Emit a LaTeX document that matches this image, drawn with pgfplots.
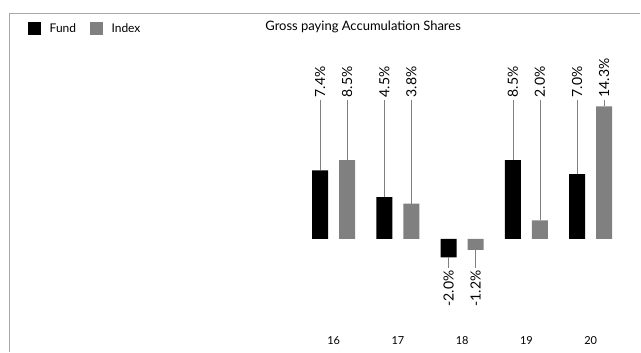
\documentclass[border=0pt]{standalone}
\usepackage{pgfplots}
\usepackage{pgfplotstable}
\pgfplotsset{compat=1.18}
\usepackage{fontspec}
\setmainfont{Lato}

\definecolor{idxgray}{HTML}{808080}
\definecolor{framegray}{HTML}{A8A8A8}

% discrete years, plotted at 0..4
\pgfplotstableread{
x fund index
0 7.4 8.5
1 4.5 3.8
2 -2.0 -1.2
3 8.5 2.0
4 7.0 14.3
}\returns

\begin{document}
\begin{tikzpicture}
\begin{axis}[
    scale only axis,
    width=641pt, height=352pt,
    xmin=-5.194, xmax=4.774,
    ymin=-12.19, ymax=25.78,
    clip=false,
    axis line style={draw=none},
    major tick length=0pt,
    ytick=\empty,
    xtick={0,1,2,3,4},
    xticklabels={16,17,18,19,20},
    xticklabel style={anchor=center, yshift=11pt, font=\fontsize{11}{13}\selectfont},
    /pgf/number format/assume math mode=true,
    title={Gross paying Accumulation Shares},
    title style={at={(rel axis cs:0.567,0.921)}, anchor=center, yshift=-5pt,
        font=\fontsize{13}{15}\selectfont},
    legend style={at={(rel axis cs:0.0437,0.94)}, anchor=north west, draw=none, fill=none,
        inner sep=0pt, font=\fontsize{12}{14}\selectfont,
        /tikz/every odd column/.append style={column sep=6.5pt},
        /tikz/every even column/.append style={column sep=12pt}},
    legend columns=2,
    legend image code/.code={\fill[#1] (0pt,-6.5pt) rectangle (13pt,6.5pt);},
]
% frame
\draw[framegray, line width=1.2pt] (rel axis cs:0.0148,0) -- (rel axis cs:0.0148,0.963) -- (rel axis cs:1,0.963);

% bars
\addplot[ybar, bar width=16pt, bar shift=-13.5pt, fill=black, draw=none]
    table[x=x, y=fund]{\returns};
\addlegendentry{Fund}
\addplot[ybar, bar width=16pt, bar shift=13.5pt, fill=idxgray, draw=none]
    table[x=x, y=index]{\returns};
\addlegendentry{Index}

% value labels with leader lines
\pgfplotsset{
    lbl/.style={only marks, mark=none, forget plot,
        restrict y to domain=-50:50,
        point meta=explicit,
        nodes near coords={\pgfmathprintnumber[fixed, fixed zerofill, precision=1]{\pgfplotspointmeta}\%},
        every node near coord/.style={rotate=90, text=black, inner sep=2.5pt,
            font=\fontsize{14}{16}\selectfont},
        error bars/error mark=none,
        error bars/error bar style={draw=gray, line width=0.6pt}},
}
% positive values
\addplot[lbl, every node near coord/.append style={anchor=west},
    error bars/.cd, y dir=minus, y explicit]
    table[x expr=\thisrow{x}-0.21, y expr={\thisrow{fund}>0 ? 15 : 1000}, meta=fund,
          y error minus expr={15-\thisrow{fund}}]{\returns};
\addplot[lbl, every node near coord/.append style={anchor=west},
    error bars/.cd, y dir=minus, y explicit]
    table[x expr=\thisrow{x}+0.21, y expr={\thisrow{index}>0 ? 15 : 1000}, meta=index,
          y error minus expr={15-\thisrow{index}}]{\returns};
% negative values
\addplot[lbl, every node near coord/.append style={anchor=east},
    error bars/.cd, y dir=plus, y explicit]
    table[x expr=\thisrow{x}-0.21, y expr={\thisrow{fund}<0 ? -3.13 : 1000}, meta=fund,
          y error plus expr={\thisrow{fund}+3.13}]{\returns};
\addplot[lbl, every node near coord/.append style={anchor=east},
    error bars/.cd, y dir=plus, y explicit]
    table[x expr=\thisrow{x}+0.21, y expr={\thisrow{index}<0 ? -3.13 : 1000}, meta=index,
          y error plus expr={\thisrow{index}+3.13}]{\returns};
\end{axis}
\end{tikzpicture}
\end{document}
